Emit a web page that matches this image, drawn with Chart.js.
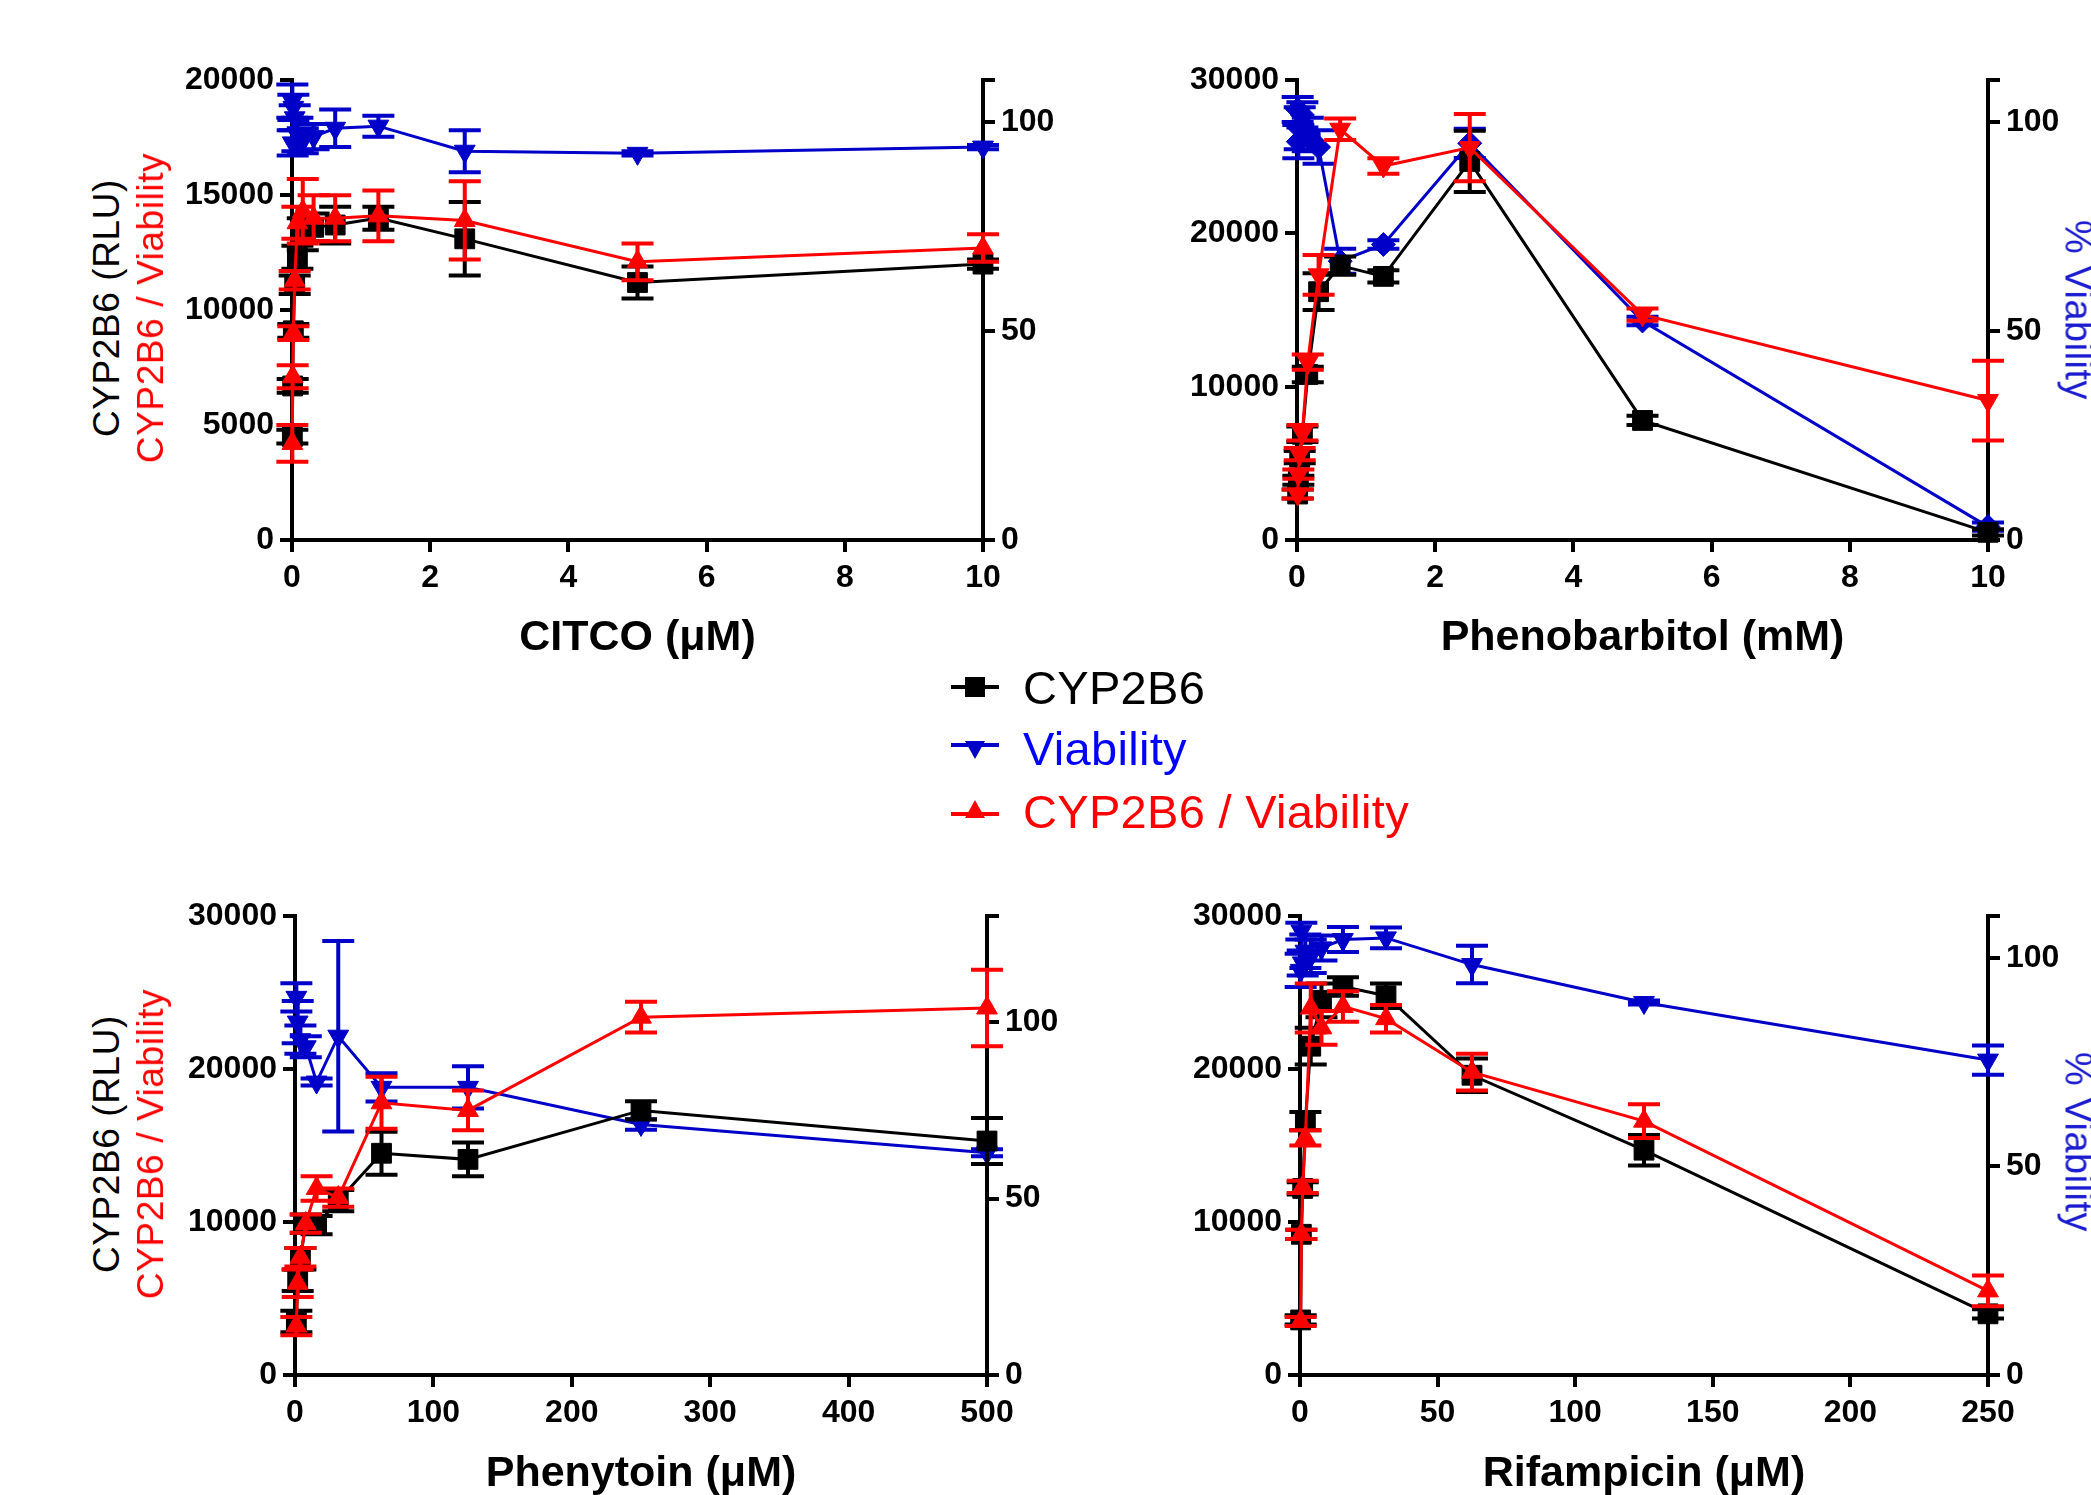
<!DOCTYPE html>
<html lang="en">
<head>
<meta charset="utf-8">
<title>CYP2B6 induction and viability</title>
<script src="https://cdn.jsdelivr.net/npm/chart.js@4.4.0/dist/chart.umd.min.js"></script>
<style>
  html, body { margin: 0; padding: 0; background: #fff; }
  body { width: 2091px; height: 1495px; position: relative; overflow: hidden; font-family: 'Liberation Sans', Arial, sans-serif; }
  canvas { position: absolute; }
  .ltitle { position: absolute; white-space: nowrap; font-size: 37px; letter-spacing: 0.6px; transform: translate(-50%, -50%) rotate(-90deg); }
  .rtitle { position: absolute; white-space: nowrap; font-size: 38px; letter-spacing: 0.5px; color: #1a1ad0; transform: translate(-50%, -50%) rotate(90deg); }
  .legend-row { position: absolute; left: 951px; height: 62px; display: flex; align-items: center; font-size: 47px; letter-spacing: 0.3px; white-space: nowrap; }
  .legend-row svg { margin-right: 24px; }
</style>
</head>
<body>

<canvas id="pCitco" width="931" height="609" style="left:152px; top:55px;"></canvas>
<canvas id="pPheno" width="931" height="609" style="left:1157px; top:55px;"></canvas>
<canvas id="pPhenytoin" width="932" height="609" style="left:155px; top:891px;"></canvas>
<canvas id="pRif" width="928" height="609" style="left:1160px; top:891px;"></canvas>

<div class="ltitle" style="left:107px; top:308px;">CYP2B6 (RLU)</div>
<div class="ltitle" style="left:151px; top:308px; color:#ff0000;">CYP2B6 / Viability</div>
<div class="ltitle" style="left:107px; top:1144px;">CYP2B6 (RLU)</div>
<div class="ltitle" style="left:151px; top:1144px; color:#ff0000;">CYP2B6 / Viability</div>
<div class="rtitle" style="left:2078px; top:310px;">% Viability</div>
<div class="rtitle" style="left:2078px; top:1142px;">% Viability</div>

<div class="legend-row" style="top:656px;">
  <svg width="48" height="30"><line x1="0" y1="15" x2="48" y2="15" stroke="#000" stroke-width="4"/><rect x="14" y="5" width="20" height="20" fill="#000"/></svg>
  <span style="color:#000;">CYP2B6</span>
</div>
<div class="legend-row" style="top:717px;">
  <svg width="48" height="30"><line x1="0" y1="12" x2="48" y2="12" stroke="#0000c8" stroke-width="4"/><polygon points="14,8 34,8 24,26" fill="#0000c8"/></svg>
  <span style="color:#0000ff;">Viability</span>
</div>
<div class="legend-row" style="top:780px;">
  <svg width="48" height="30"><line x1="0" y1="18" x2="48" y2="18" stroke="#ff0000" stroke-width="4"/><polygon points="24,4 14,22 34,22" fill="#ff0000"/></svg>
  <span style="color:#ff0000;">CYP2B6 / Viability</span>
</div>

<script>
// CITCO (uM)
const citcoX = [10, 5, 2.5, 1.25, 0.625, 0.3125, 0.156, 0.078, 0.039, 0.0195, 0.0098, 0.0049];
const citcoCyp = [12000, 11200, 13100, 14000, 13700, 13600, 13300, 12300, 11100, 9100, 6700, 4500];
const citcoCypErr = [200, 700, 1600, 500, 800, 600, 700, 500, 400, 300, 300, 300];
const citcoRatio = [12700, 12100, 13900, 14100, 14000, 14000, 14300, 13800, 11300, 9000, 7100, 4200];
const citcoRatioErr = [600, 800, 1700, 1100, 1000, 1000, 1400, 700, 400, 300, 500, 800];
const citcoVia = [94, 92.5, 93, 99, 98.5, 96.5, 95.5, 97, 101, 103.5, 95, 105];
const citcoViaErr = [0.5, 0.5, 5, 2.5, 4.5, 3, 3, 4, 3, 3, 3, 4];

// Phenobarbitol (mM)
const phenoX = [10, 5, 2.5, 1.25, 0.625, 0.3125, 0.156, 0.078, 0.039, 0.0195, 0.0098];
const phenoCyp = [500, 7800, 24700, 17200, 17900, 16200, 10800, 6900, 5400, 3900, 3000];
const phenoCypErr = [200, 300, 2000, 400, 600, 1200, 500, 500, 400, 300, 300];
const phenoRatio = [9100, 14700, 25600, 24400, 26800, 17300, 11600, 7000, 5600, 4300, 3000];
const phenoRatioErr = [2600, 400, 2200, 500, 700, 1300, 500, 500, 400, 300, 300];
const phenoVia = [3.2, 52.4, 94.9, 70.7, 66.7, 94, 97, 101.7, 98.5, 95.3, 103];
const phenoViaErr = [1, 1, 3.5, 1, 3, 4, 4, 3, 5, 4, 3];

// Phenytoin (uM)
const phtX = [500, 250, 125, 62.5, 31.25, 15.6, 7.8, 3.9, 1.95, 0.98];
const phtCyp = [15300, 17300, 14100, 14500, 11400, 9800, 9900, 7600, 6200, 3500];
const phtCypErr = [1500, 600, 1100, 1400, 700, 600, 600, 700, 700, 700];
const phtRatio = [24000, 23400, 17300, 17800, 11600, 12200, 9900, 7700, 6000, 3200];
const phtRatioErr = [2500, 1000, 1300, 1700, 600, 800, 600, 600, 900, 600];
const phtVia = [63, 71, 81.5, 81.5, 96, 83, 93, 95, 100, 107];
const phtViaErr = [1, 1.5, 6, 4, 27, 1, 3, 4, 6, 4];

// Rifampicin (uM)
const rifX = [250, 125, 62.5, 31.25, 15.6, 7.8, 3.9, 1.95, 0.98, 0.49, 0.24];
const rifCyp = [4000, 14700, 19600, 24800, 25400, 24500, 21500, 16600, 12200, 9200, 3600];
const rifCypErr = [300, 1000, 1100, 800, 600, 1100, 1200, 600, 400, 300, 300];
const rifRatio = [5500, 16600, 19800, 23300, 24100, 22700, 24000, 15500, 12300, 9200, 3500];
const rifRatioErr = [1000, 1100, 1200, 900, 1000, 1100, 1600, 500, 400, 300, 300];
const rifVia = [75.5, 89.3, 98.4, 104.8, 104.4, 102.4, 100.4, 101.6, 98.8, 106.4, 97];
const rifViaErr = [3.5, 0.5, 4.5, 2.5, 3, 3, 4, 4, 3, 2, 4];

const BLACK = '#000000', RED = '#ff0000', BLUE = '#0000c8';
const FAMILY = "'Liberation Sans', Arial, sans-serif";

// draws mean +/- error bars for any dataset carrying an "errors" array
const errorBars = {
  id: 'errorBars',
  afterDatasetDraw(chart, args) {
    const ds = chart.data.datasets[args.index];
    if (!ds.errors) return;
    const yScale = chart.scales[args.meta.yAxisID];
    const ctx = chart.ctx;
    ctx.save();
    ctx.strokeStyle = ds.borderColor;
    ctx.lineWidth = 4;
    args.meta.data.forEach((pt, i) => {
      const e = ds.errors[i];
      if (!e) return;
      const v = ds.data[i].y;
      const yt = yScale.getPixelForValue(v + e);
      const yb = yScale.getPixelForValue(v - e);
      ctx.beginPath();
      ctx.moveTo(pt.x, yt); ctx.lineTo(pt.x, yb);
      ctx.moveTo(pt.x - 16, yt); ctx.lineTo(pt.x + 16, yt);
      ctx.moveTo(pt.x - 16, yb); ctx.lineTo(pt.x + 16, yb);
      ctx.stroke();
    });
    ctx.restore();
  }
};

function series(label, xs, ys, errs, color, axis, style, rot, r) {
  return {
    label,
    data: xs.map((x, i) => ({ x, y: ys[i] })),
    errors: errs,
    borderColor: color,
    backgroundColor: color,
    borderWidth: 3,
    pointStyle: style,
    pointRotation: rot,
    pointRadius: r,
    pointHoverRadius: r,
    pointBorderWidth: 1,
    yAxisID: axis,
    clip: false,
    tension: 0
  };
}

function panel(id, o) {
  const tickFont = { family: FAMILY, size: 32, weight: 'bold' };
  const grid = { drawOnChartArea: false, drawTicks: true, tickLength: 12, color: BLACK, lineWidth: 4 };
  const border = { display: true, color: BLACK, width: 4 };
  const vTop = o.viaTop;
  return new Chart(document.getElementById(id), {
    type: 'line',
    data: {
      datasets: [
        series('CYP2B6 / Viability', o.x, o.ratio, o.ratioErr, RED, 'y', 'triangle', o.redRot, 12),
        series('CYP2B6', o.x, o.cyp, o.cypErr, BLACK, 'y', 'rect', 0, 14),
        series('Viability', o.x, o.via, o.viaErr, BLUE, 'y2', o.blueStyle, o.blueRot, 12)
      ]
    },
    options: {
      responsive: false,
      animation: false,
      layout: { padding: { top: 24, left: 0, right: 0, bottom: 0 } },
      plugins: { legend: { display: false }, tooltip: { enabled: false } },
      scales: {
        x: {
          type: 'linear', min: 0, max: o.xMax,
          grid, border,
          ticks: { stepSize: o.xStep, autoSkip: false, maxRotation: 0, font: tickFont, color: BLACK, padding: 7,
                   callback: v => String(v) },
          title: { display: true, text: o.xTitle, color: BLACK, padding: 0,
                   font: { family: FAMILY, size: 43, weight: 'bold', lineHeight: 1.2 } },
          afterFit: s => { s.height = o.bottomH; }
        },
        y: {
          position: 'left', min: 0, max: o.yMax,
          grid, border,
          ticks: { stepSize: o.yStep, font: tickFont, color: BLACK, padding: 6, callback: v => String(v) },
          afterFit: s => { s.width = 140; }
        },
        y2: {
          position: 'right', min: 0, max: vTop,
          grid, border,
          afterBuildTicks: s => { s.ticks = [0, 50, 100, vTop].map(v => ({ value: v })); },
          ticks: { font: tickFont, color: BLACK, padding: 6, callback: v => (v === vTop ? '' : String(v)) },
          afterFit: s => { s.width = o.rightW; }
        }
      }
    },
    plugins: [errorBars]
  });
}

panel('pCitco', {
  x: citcoX, cyp: citcoCyp, cypErr: citcoCypErr, ratio: citcoRatio, ratioErr: citcoRatioErr,
  via: citcoVia, viaErr: citcoViaErr,
  xMax: 10, xStep: 2, yMax: 20000, yStep: 5000, viaTop: 110,
  xTitle: 'CITCO (μM)', redRot: 0, blueStyle: 'triangle', blueRot: 180, bottomH: 124, rightW: 100
});

panel('pPheno', {
  x: phenoX, cyp: phenoCyp, cypErr: phenoCypErr, ratio: phenoRatio, ratioErr: phenoRatioErr,
  via: phenoVia, viaErr: phenoViaErr,
  xMax: 10, xStep: 2, yMax: 30000, yStep: 10000, viaTop: 110,
  xTitle: 'Phenobarbitol (mM)', redRot: 180, blueStyle: 'rectRot', blueRot: 0, bottomH: 124, rightW: 100
});

panel('pPhenytoin', {
  x: phtX, cyp: phtCyp, cypErr: phtCypErr, ratio: phtRatio, ratioErr: phtRatioErr,
  via: phtVia, viaErr: phtViaErr,
  xMax: 500, xStep: 100, yMax: 30000, yStep: 10000, viaTop: 130,
  xTitle: 'Phenytoin (μM)', redRot: 0, blueStyle: 'triangle', blueRot: 180, bottomH: 125, rightW: 100
});

panel('pRif', {
  x: rifX, cyp: rifCyp, cypErr: rifCypErr, ratio: rifRatio, ratioErr: rifRatioErr,
  via: rifVia, viaErr: rifViaErr,
  xMax: 250, xStep: 50, yMax: 30000, yStep: 10000, viaTop: 110,
  xTitle: 'Rifampicin (μM)', redRot: 0, blueStyle: 'triangle', blueRot: 180, bottomH: 125, rightW: 100
});
</script>
</body>
</html>
